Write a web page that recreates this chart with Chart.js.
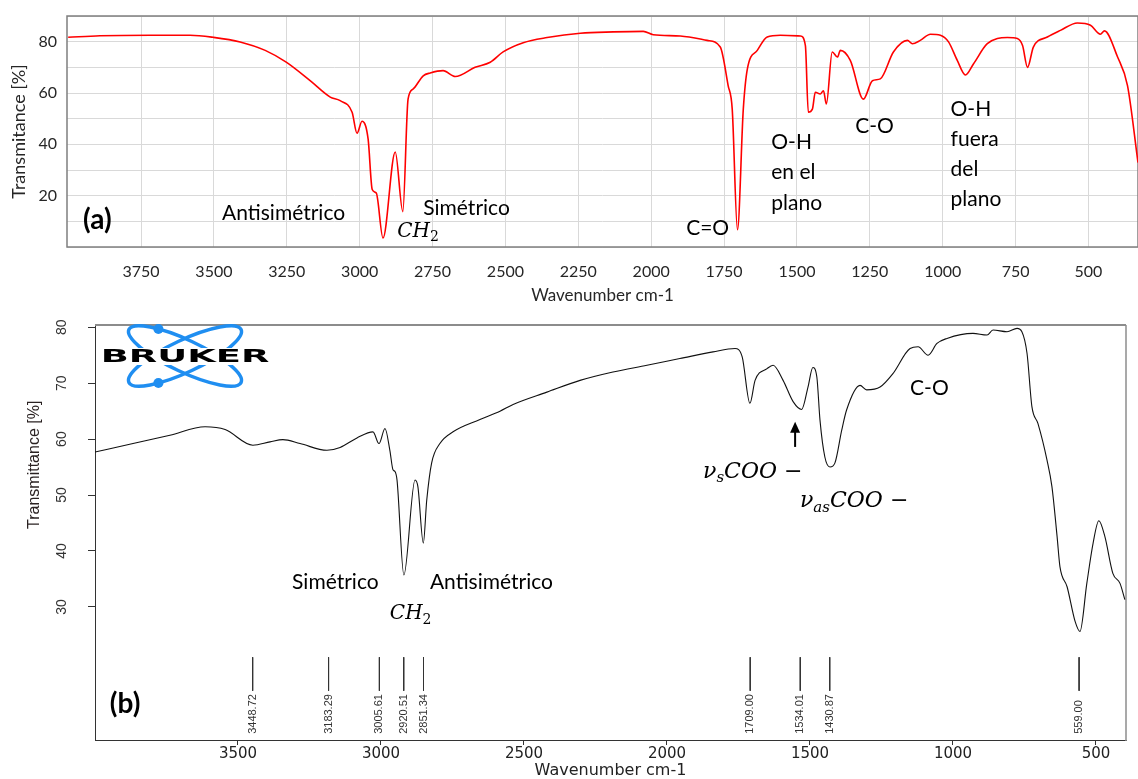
<!DOCTYPE html>
<html><head><meta charset="utf-8">
<script src="https://cdn.jsdelivr.net/npm/chart.js@4.4.1/dist/chart.umd.min.js"></script>
<style>
html,body{margin:0;padding:0;background:#fff;width:1138px;height:779px;overflow:hidden}
#wa{position:absolute;left:0;top:0;width:1138px;height:310px}
#wb{position:absolute;left:0;top:310px;width:1138px;height:469px}
</style></head><body>
<div id="wa"><canvas id="ca"></canvas></div>
<div id="wb"><canvas id="cb"></canvas></div>
<script>
// ---------- DATA: spectrum (a) ----------
const wavenumberA = [4000,3891,3719,3582,3503,3410,3324,3252,3170,3101,3067,3026,3009,2992,2971,2957,2943,2920,2878,2852,2834,2817,2782,2758,2714,2672,2604,2552,2508,2439,2357,2243,2130,2027,1993,1900,1808,1763,1736,1722,1704,1684,1670,1636,1602,1557,1488,1471,1461,1447,1437,1420,1409,1399,1379,1361,1351,1317,1272,1241,1214,1169,1121,1104,1077,1042,1008,980,950,922,894,847,778,744,726,709,689,641,596,538,493,459,445,400,366,330];
const transmittanceA = [81.7,82.3,82.5,82.5,81.7,79.9,76.6,72.0,64.8,58.4,57.0,52.5,44.3,49.0,42.0,22.4,21.0,3.5,37.0,13.8,57.6,61.5,66.7,67.8,68.7,66.4,70.0,72.0,76.0,79.6,81.6,83.3,83.8,84.0,82.7,82.2,80.5,77.9,62.9,53.7,6.7,53.7,69.4,76.6,81.8,82.5,82.2,78.5,52.5,53.7,60.3,59.6,60.9,55.7,76.0,74.0,76.6,72.7,57.6,64.8,65.5,76.0,80.5,79.2,80.5,82.9,82.5,79.9,72.7,67.0,71.4,79.2,81.6,81.2,78.5,70.0,77.9,81.8,84.4,87.3,86.4,82.9,84.2,74.0,62.9,32.9];
const xTicksA = [3750,3500,3250,3000,2750,2500,2250,2000,1750,1500,1250,1000,750,500];
const yGridA = [0,10,20,30,40,50,60,70,80,90];
const yLabelsA = [20,40,60,80];

// ---------- DATA: spectrum (b) ----------
const wavenumberB = [4000,3867,3738,3615,3545,3448,3388,3343,3283,3189,3143,3084,3028,3007,2986,2969,2958,2951,2944,2920,2881,2871,2852,2840,2823,2794,2748,2654,2584,2538,2420,2304,2189,2070,1955,1839,1762,1737,1710,1692,1650,1629,1594,1559,1529,1507,1490,1476,1465,1448,1430,1413,1389,1372,1325,1302,1255,1210,1150,1122,1087,1056,1021,930,881,860,811,776,759,741,724,703,671,654,636,626,601,573,556,532,510,490,469,441,416,399];
const transmittanceB = [57.7,59.2,60.7,62.2,61.7,58.9,59.5,59.9,59.2,58.0,58.5,60.2,61.3,59.2,61.9,58.0,54.5,54.2,52.7,35.7,52.7,51.5,41.4,49.1,55.7,59.2,61.3,63.5,65.0,66.2,68.4,70.5,72.0,73.2,74.4,75.6,76.2,74.7,66.4,70.5,72.6,73.2,70.5,66.7,65.3,69.3,72.8,71.1,63.4,56.8,55.0,55.7,61.6,65.2,69.6,68.8,69.3,71.7,76.2,76.5,75.0,77.1,78.0,78.9,78.6,79.5,79.2,79.8,79.2,75.3,65.8,62.8,56.2,51.5,42.6,37.2,33.6,27.4,25.6,34.2,41.4,45.4,42.6,36.0,34.2,31.3];
const xTicksB = [3500,3000,2500,2000,1500,1000,500];
const yTicksB = [30,40,50,60,70,80];
const peakPositionsB = [3448.72,3183.29,3005.61,2920.51,2851.34,1709.00,1534.01,1430.87,559.00];
const peakLabelsB = ['3448.72','3183.29','3005.61','2920.51','2851.34','1709.00','1534.01','1430.87','559.00'];

// ---------- marker / annotation placement (in data units) ----------
const PEAK_TOP = 21.0, PEAK_BOTTOM = 15.0, PEAK_LABEL_BASE = 7.3;

const LATO = '"Lato", "Open Sans", sans-serif';
const SERIF = '"DejaVu Serif", serif';

const notesA = [
  {w:3949, v:10.5, lines:['(a)'], font:'bold 28px '+LATO},
  {w:3472, v:13.3, lines:['Antisimétrico'], font:'21px '+LATO},
  {w:2782, v:15.2, lines:['Simétrico'], font:'21px '+LATO},
  {w:1880, v:7.2, lines:['C=O'], font:'21px '+LATO},
  {w:1588, v:41.0, lines:['O-H','en el','plano'], font:'21px '+LATO, lh:30.5},
  {w:1300, v:47.2, lines:['C-O'], font:'21px '+LATO},
  {w:973, v:53.5, lines:['O-H','fuera','del','plano'], font:'21px '+LATO, lh:30}
];
const richA = [
  {w:2871, v:5.9, parts:[{t:'CH', font:'italic 20px '+SERIF},{t:'2', font:'14px '+SERIF, dy:6}]}
];
const notesB = [
  {w:3948, v:12.6, lines:['(b)'], font:'bold 28px '+LATO},
  {w:3311, v:34.45, lines:['Simétrico'], font:'21px '+LATO},
  {w:2829, v:34.45, lines:['Antisimétrico'], font:'21px '+LATO},
  {w:1150, v:69.1, lines:['C-O'], font:'21px '+LATO}
];
const richB = [
  {w:2969, v:28.7, parts:[{t:'CH', font:'italic 20px '+SERIF},{t:'2', font:'14px '+SERIF, dy:6}]},
  {w:1874, v:54.1, parts:[{t:'ν', font:'italic 22px '+SERIF},{t:'s', font:'italic 15px '+SERIF, dy:6},{t:'COO −', font:'italic 22px '+SERIF}]},
  {w:1535, v:48.8, parts:[{t:'ν', font:'italic 22px '+SERIF},{t:'as', font:'italic 15px '+SERIF, dy:6},{t:'COO −', font:'italic 22px '+SERIF}]}
];
const arrowB = {w:1552, vFrom:58.6, vTo:63.1};

function drawNotes(chart, notes, rich){
  const ctx = chart.ctx, xs = chart.scales.x, ys = chart.scales.y;
  ctx.save();
  ctx.fillStyle = '#000';
  ctx.textBaseline = 'middle';
  ctx.textAlign = 'left';
  for (const n of notes){
    const x = xs.getPixelForValue(n.w), y = ys.getPixelForValue(n.v);
    ctx.font = n.font;
    n.lines.forEach((t,i)=>ctx.fillText(t, x, y + i*(n.lh||0)));
  }
  for (const r of rich){
    let x = xs.getPixelForValue(r.w); const y = ys.getPixelForValue(r.v);
    for (const p of r.parts){
      ctx.font = p.font;
      ctx.fillText(p.t, x, y + (p.dy||0));
      x += ctx.measureText(p.t).width;
    }
  }
  ctx.restore();
}

const pluginA = {
  id:'decorA',
  beforeDatasetsDraw(chart){
    const {ctx, chartArea:a} = chart;
    ctx.save(); ctx.strokeStyle='#7f7f7f'; ctx.lineWidth=1.5;
    ctx.strokeRect(a.left, a.top, a.right-a.left, a.bottom-a.top);
    ctx.restore();
  },
  afterDraw(chart){ drawNotes(chart, notesA, richA); }
};

const pluginB = {
  id:'decorB',
  beforeDatasetsDraw(chart){
    const {ctx, chartArea:a} = chart;
    ctx.save(); ctx.strokeStyle='#8c8c8c';
    ctx.lineWidth=2; ctx.beginPath(); ctx.moveTo(a.left, a.top); ctx.lineTo(a.right, a.top); ctx.stroke();
    ctx.lineWidth=1.5; ctx.beginPath(); ctx.moveTo(a.right, a.top); ctx.lineTo(a.right, a.bottom+1); ctx.stroke();
    ctx.restore();
  },
  afterDraw(chart){
    const {ctx, chartArea:a} = chart; const xs = chart.scales.x, ys = chart.scales.y;
    // peak labels
    ctx.save();
    ctx.fillStyle='#333'; ctx.font='11px "Liberation Sans", Arial, sans-serif';
    ctx.textAlign='left'; ctx.textBaseline='middle';
    peakPositionsB.forEach((p,i)=>{
      ctx.save();
      ctx.translate(xs.getPixelForValue(p), ys.getPixelForValue(PEAK_LABEL_BASE));
      ctx.rotate(-Math.PI/2);
      ctx.fillText(peakLabelsB[i], 0, 0);
      ctx.restore();
    });
    ctx.restore();
    // y axis title
    ctx.save();
    ctx.fillStyle='#2a2222'; ctx.font='16px "Liberation Sans", Arial, sans-serif';
    ctx.textAlign='center'; ctx.textBaseline='middle';
    ctx.translate(35, ys.getPixelForValue(55.4));
    ctx.rotate(-Math.PI/2);
    ctx.fillText('Transmittance [%]', 0, 0);
    ctx.restore();
    // arrow
    ctx.save();
    const ax = xs.getPixelForValue(arrowB.w), ay0 = ys.getPixelForValue(arrowB.vFrom), ay1 = ys.getPixelForValue(arrowB.vTo);
    ctx.strokeStyle='#000'; ctx.fillStyle='#000'; ctx.lineWidth=2;
    ctx.beginPath(); ctx.moveTo(ax, ay0); ctx.lineTo(ax, ay1+8); ctx.stroke();
    ctx.beginPath(); ctx.moveTo(ax, ay1); ctx.lineTo(ax-5, ay1+11); ctx.lineTo(ax+5, ay1+11); ctx.closePath(); ctx.fill();
    ctx.restore();
    drawNotes(chart, notesB, richB);
    // Bruker logo
    ctx.save();
    const cx = a.left + 90, cy = a.top + 31;
    ctx.strokeStyle='#1f8ef1'; ctx.fillStyle='#1f8ef1'; ctx.lineWidth=3.5;
    [0.44,-0.44].forEach(th=>{ ctx.beginPath(); ctx.ellipse(cx, cy, 62, 16, th, 0, Math.PI*2); ctx.stroke(); });
    const dot = (th,t)=>{ const A=62,B=16; const x = A*Math.cos(t)*Math.cos(th) - B*Math.sin(t)*Math.sin(th); const y = A*Math.cos(t)*Math.sin(th) + B*Math.sin(t)*Math.cos(th); ctx.beginPath(); ctx.arc(cx+x, cy+y, 5, 0, Math.PI*2); ctx.fill(); };
    dot(0.44, 235*Math.PI/180); dot(-0.44, 125*Math.PI/180);
    ctx.fillStyle='#fff'; ctx.fillRect(cx-86, cy-8, 172, 17);
    ctx.fillStyle='#000'; ctx.font='bold 18px "DejaVu Sans", sans-serif'; ctx.textAlign='center'; ctx.textBaseline='middle';
    ctx.translate(cx, cy+1); ctx.scale(2.05, 1); ctx.fillText('BRUKER', 0, 0);
    ctx.restore();
  }
};

// ---------- chart (a) ----------
new Chart(document.getElementById('ca'), {
  type:'scatter',
  data:{datasets:[{data: wavenumberA.map((w,i)=>({x:w, y:transmittanceA[i]})), showLine:true, borderColor:'#ff0000', borderWidth:1.6, pointRadius:0, cubicInterpolationMode:'monotone', fill:false}]},
  options:{
    responsive:true, maintainAspectRatio:false, animation:false, devicePixelRatio:1,
    layout:{padding:{top:16,left:0,right:0,bottom:0}},
    plugins:{legend:{display:false}, tooltip:{enabled:false}},
    scales:{
      x:{type:'linear', reverse:true, min:330, max:4004,
         afterBuildTicks:s=>{s.ticks = xTicksA.map(v=>({value:v}));},
         afterFit:s=>{s.height=63; s.paddingLeft=0; s.paddingRight=0;},
         ticks:{font:{family:LATO, size:16}, color:'#262626', padding:15, autoSkip:false, maxRotation:0, minRotation:0, callback:v=>String(v)},
         grid:{color:'#d9d9d9', lineWidth:1, drawTicks:false}, border:{display:false},
         title:{display:true, text:'Wavenumber cm-1', font:{family:LATO, size:17}, color:'#262626', padding:{top:0,bottom:4}}},
      y:{min:0, max:90,
         afterBuildTicks:s=>{s.ticks = yGridA.map(v=>({value:v}));},
         afterFit:s=>{s.width=67; s.paddingTop=0; s.paddingBottom=0;},
         ticks:{font:{family:LATO, size:16}, color:'#262626', padding:10, autoSkip:false, callback:v=>yLabelsA.includes(v)?String(v):''},
         grid:{color:'#d9d9d9', lineWidth:1, drawTicks:false}, border:{display:false},
         title:{display:true, text:'Transmitance [%]', font:{family:LATO, size:18}, color:'#262626', padding:{top:8,bottom:0}}}
    }
  },
  plugins:[pluginA]
});

// ---------- chart (b) ----------
const peakSegments = [];
peakPositionsB.forEach(p=>{ peakSegments.push({x:p, y:PEAK_TOP}, {x:p, y:PEAK_BOTTOM}, {x:p, y:null}); });

new Chart(document.getElementById('cb'), {
  type:'scatter',
  data:{datasets:[
    {data: wavenumberB.map((w,i)=>({x:w, y:transmittanceB[i]})), showLine:true, borderColor:'#111', borderWidth:1.1, pointRadius:0, cubicInterpolationMode:'monotone', fill:false},
    {data: peakSegments, showLine:true, spanGaps:false, borderColor:'#333', borderWidth:1, pointRadius:0, fill:false}
  ]},
  options:{
    responsive:true, maintainAspectRatio:false, animation:false, devicePixelRatio:1,
    layout:{padding:{top:15,left:0,right:12,bottom:0}},
    plugins:{legend:{display:false}, tooltip:{enabled:false}},
    scales:{
      x:{type:'linear', reverse:true, min:395, max:4000,
         afterBuildTicks:s=>{s.ticks = xTicksB.map(v=>({value:v}));},
         afterFit:s=>{s.height=39; s.paddingLeft=0; s.paddingRight=0;},
         ticks:{font:{family:'"DejaVu Sans", sans-serif', size:15}, color:'#222', padding:0, autoSkip:false, maxRotation:0, minRotation:0, callback:v=>String(v)},
         grid:{display:true, drawOnChartArea:false, drawTicks:true, tickLength:5, color:'#333'},
         border:{display:true, color:'#333', width:1},
         title:{display:true, text:'Wavenumber cm-1', font:{family:'"DejaVu Sans", sans-serif', size:16, lineHeight:1.0}, color:'#222', padding:{top:0,bottom:0}}},
      y:{min:6.2, max:80.4,
         afterBuildTicks:s=>{s.ticks = yTicksB.map(v=>({value:v}));},
         afterFit:s=>{s.width=95; s.paddingTop=0; s.paddingBottom=0;},
         ticks:{font:{family:'"Liberation Sans", Arial, sans-serif', size:14}, color:'#333', padding:18, minRotation:90, maxRotation:90, crossAlign:'center', autoSkip:false, callback:v=>String(v)},
         grid:{display:true, drawOnChartArea:false, drawTicks:true, tickLength:7, color:'#333'},
         border:{display:true, color:'#333', width:1},
         title:{display:false}}
    }
  },
  plugins:[pluginB]
});
</script>
</body></html>
